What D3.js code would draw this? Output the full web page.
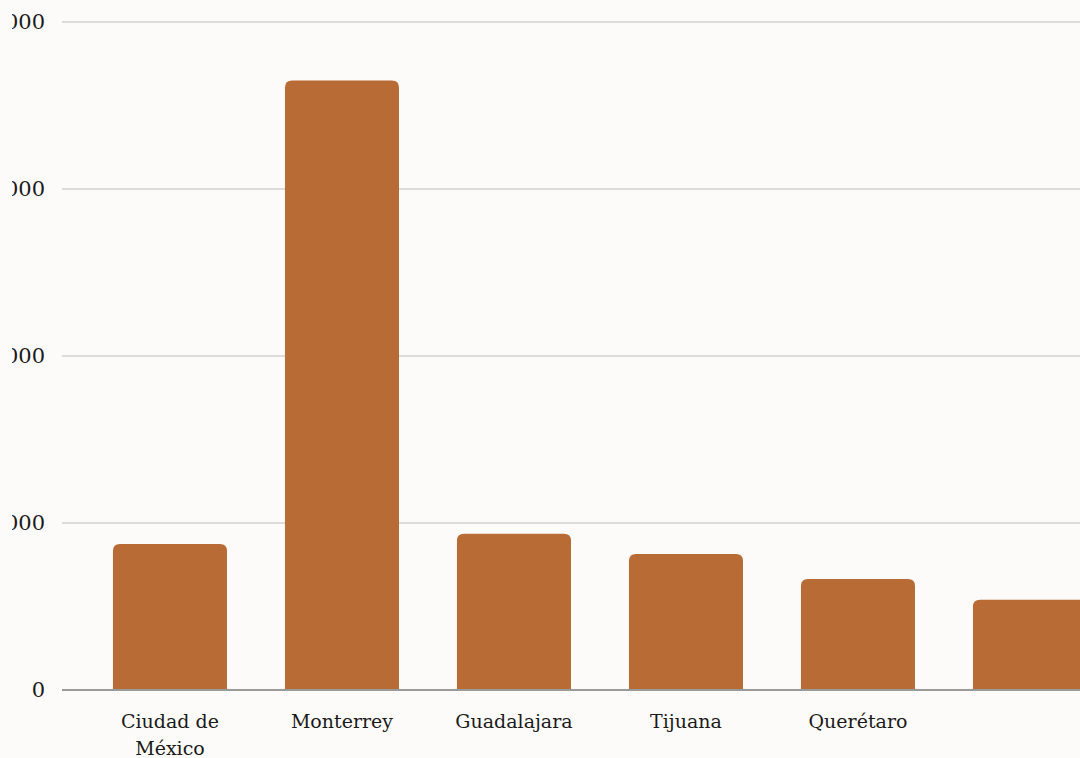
<!DOCTYPE html>
<html>
<head>
<meta charset="utf-8">
<script src="https://cdn.jsdelivr.net/npm/d3@7"></script>
<style>
  html, body { margin: 0; padding: 0; background: #fdfbf9; overflow: hidden; }
  #wrap { position: absolute; left: 12px; top: 0; width: 1068px; height: 758px; overflow: hidden; }
  svg { display: block; overflow: hidden; }
</style>
</head>
<body>
<div id="wrap"></div>
<script>
// Cities and their values
const cities = ["Ciudad de México", "Monterrey", "Guadalajara", "Tijuana", "Querétaro", "Otras"];
const cityLabels = [["Ciudad de", "México"], ["Monterrey"], ["Guadalajara"], ["Tijuana"], ["Querétaro"], []];
const values = [875, 3650, 935, 815, 665, 540];
const yTicks = [0, 1000, 2000, 3000, 4000];

const offsetX = 12;            // svg is shifted right inside the page
const width = 1068, height = 758;
const svg = d3.select("#wrap").append("svg")
  .attr("width", width).attr("height", height);
const g = svg.append("g").attr("transform", `translate(${-offsetX},0)`);

const x = d3.scaleBand()
  .domain(cities)
  .range([55, 55 + 172 * 6.337])
  .paddingInner(0.337)
  .paddingOuter(0.337);

const y = d3.scaleLinear().domain([0, 4000]).range([690, 22]);

// gridlines
g.append("g").selectAll("line")
  .data(yTicks.filter(d => d > 0))
  .join("line")
  .attr("x1", 62).attr("x2", 1100)
  .attr("y1", d => y(d)).attr("y2", d => y(d))
  .attr("stroke", "#d3d2d0").attr("stroke-width", 1.5);

// y tick labels
g.append("g").selectAll("text")
  .data(yTicks)
  .join("text")
  .attr("x", 45).attr("y", d => y(d))
  .attr("dy", "0.35em")
  .attr("text-anchor", "end")
  .attr("font-family", "'DejaVu Serif', serif")
  .attr("font-size", 21)
  .attr("fill", "#1a1a1a")
  .text(d => d3.format("d")(d));

// bars with rounded top corners
const r = 7;
function barPath(d, i) {
  const x0 = x(cities[i]), w = x.bandwidth();
  const y0 = y(d), y1 = y(0);
  return `M${x0},${y1} L${x0},${y0 + r} Q${x0},${y0} ${x0 + r},${y0} L${x0 + w - r},${y0} Q${x0 + w},${y0} ${x0 + w},${y0 + r} L${x0 + w},${y1} Z`;
}
g.append("g").selectAll("path")
  .data(values)
  .join("path")
  .attr("d", (d, i) => barPath(d, i))
  .attr("fill", "#b96b35");

// baseline
g.append("line")
  .attr("x1", 62).attr("x2", 1100)
  .attr("y1", y(0)).attr("y2", y(0))
  .attr("stroke", "#9a9a98").attr("stroke-width", 2);

// category labels
const lab = g.append("g").selectAll("text")
  .data(cities)
  .join("text")
  .attr("x", d => x(d) + x.bandwidth() / 2)
  .attr("y", 728)
  .attr("text-anchor", "middle")
  .attr("font-family", "'DejaVu Serif', serif")
  .attr("font-size", 19)
  .attr("fill", "#1a1a1a");
lab.each(function(d, i) {
  d3.select(this).selectAll("tspan")
    .data(cityLabels[i])
    .join("tspan")
    .attr("x", x(d) + x.bandwidth() / 2)
    .attr("dy", (t, j) => j === 0 ? 0 : 27)
    .text(t => t);
});
</script>
</body>
</html>
